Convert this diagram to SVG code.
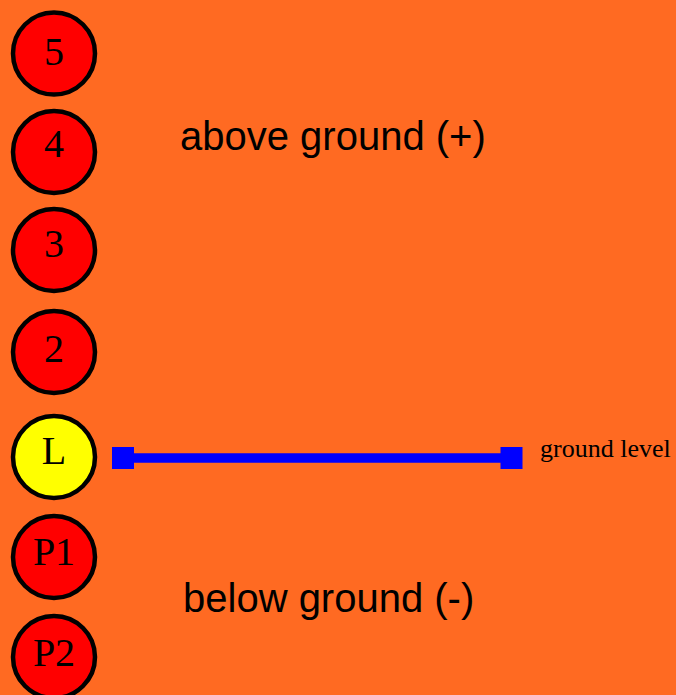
<svg xmlns="http://www.w3.org/2000/svg" width="676" height="695" viewBox="0 0 676 695">
<style>
.c{stroke:#000;stroke-width:4.5}
.red{fill:#FF0000}
.yel{fill:#FFFF00}
.lbl{font-family:"Liberation Serif","Times New Roman",serif;font-size:40px;fill:#000;text-anchor:middle}
.big{font-family:"Liberation Sans",Arial,sans-serif;font-size:40px;fill:#000}
.small{font-family:"Liberation Serif","Times New Roman",serif;font-size:26px;fill:#000}
</style>
<rect x="0" y="0" width="676" height="695" fill="#FF6A22"/>
<g id="n5"><circle class="c red" cx="54" cy="53.5" r="41"/><text class="lbl" x="54" y="65">5</text></g>
<g id="n4"><circle class="c red" cx="54" cy="152" r="41"/><text class="lbl" x="54" y="157">4</text></g>
<g id="n3"><circle class="c red" cx="54" cy="250" r="41"/><text class="lbl" x="54" y="257">3</text></g>
<g id="n2"><circle class="c red" cx="54" cy="352" r="41"/><text class="lbl" x="54" y="362">2</text></g>
<g id="nL"><circle class="c yel" cx="54" cy="457" r="41"/><text class="lbl" x="54" y="464">L</text></g>
<g id="nP1"><circle class="c red" cx="54" cy="557" r="41"/><text class="lbl" x="54" y="565">P1</text></g>
<g id="nP2"><circle class="c red" cx="54" cy="657" r="41"/><text class="lbl" x="54" y="666">P2</text></g>
<g id="connectors">
<line x1="123" y1="458" x2="511" y2="458" stroke="#0000FF" stroke-width="9.5"/>
<rect x="112" y="447" width="22" height="22" fill="#0000FF"/>
<rect x="500.5" y="447" width="22" height="22" fill="#0000FF"/>
</g>
<text class="big" x="180" y="150">above ground (+)</text>
<text class="big" x="183" y="612">below ground (-)</text>
<text class="small" x="540" y="457">ground level</text>
</svg>
